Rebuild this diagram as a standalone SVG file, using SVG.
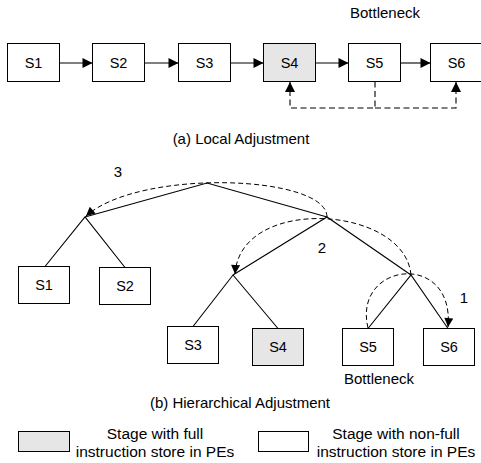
<svg xmlns="http://www.w3.org/2000/svg" width="481" height="463" viewBox="0 0 481 463">
<style>
  text { font-family: "Liberation Sans", Arial, Helvetica, sans-serif; fill: #000; }
  .lbl { font-size: 14.5px; text-anchor: middle; }
  .cap { font-size: 15px; text-anchor: middle; }
  .leg { font-size: 15.5px; text-anchor: middle; }
  .box { fill: #fff; stroke: #000; stroke-width: 1; }
  .full { fill: #e6e6e6; stroke: #000; stroke-width: 1; }
  .ln { fill: none; stroke: #000; stroke-width: 1.1; }
  .dash { fill: none; stroke: #000; stroke-width: 1.1; stroke-dasharray: 6 3.5; }
  .dash2 { fill: none; stroke: #000; stroke-width: 1; stroke-dasharray: 5 3; }
</style>
<defs>
  <marker id="ah" viewBox="0 0 10 10" refX="10" refY="5" markerUnits="userSpaceOnUse" markerWidth="15" markerHeight="10" orient="auto">
    <path d="M0,0 L10,5 L0,10 Z" fill="#000"/>
  </marker>
  <marker id="ah2" viewBox="0 0 10 10" refX="10" refY="5" markerUnits="userSpaceOnUse" markerWidth="13" markerHeight="9" orient="auto">
    <path d="M0,0 L10,5 L0,10 Z" fill="#000"/>
  </marker>
</defs>
<rect width="481" height="463" fill="#fff"/>

<!-- (a) Local Adjustment -->
<g id="a-S1"><rect class="box" x="7.5" y="43.5" width="52" height="38"/><text class="lbl" x="33.5" y="68">S1</text></g>
<g id="a-S2"><rect class="box" x="92.5" y="43.5" width="52" height="38"/><text class="lbl" x="118.5" y="68">S2</text></g>
<g id="a-S3"><rect class="box" x="178.5" y="43.5" width="52" height="38"/><text class="lbl" x="204.5" y="68">S3</text></g>
<g id="a-S4"><rect class="full" x="263.5" y="43.5" width="52" height="38"/><text class="lbl" x="289.5" y="68">S4</text></g>
<g id="a-S5"><rect class="box" x="348.5" y="43.5" width="52" height="38"/><text class="lbl" x="374.5" y="68">S5</text></g>
<g id="a-S6"><rect class="box" x="430.5" y="43.5" width="52" height="38"/><text class="lbl" x="456.5" y="68">S6</text></g>
<text id="a-bottleneck" class="cap" x="385" y="18">Bottleneck</text>
<text id="a-caption" class="cap" x="241" y="144">(a) Local Adjustment</text>

<!-- (b) Hierarchical Adjustment -->
<g id="b-S1"><rect class="box" x="18.5" y="266.5" width="51" height="37"/><text class="lbl" x="44" y="290">S1</text></g>
<g id="b-S2"><rect class="box" x="99.5" y="267.5" width="51" height="37"/><text class="lbl" x="125" y="291">S2</text></g>
<g id="b-S3"><rect class="box" x="167.5" y="326.5" width="51" height="37"/><text class="lbl" x="193" y="350">S3</text></g>
<g id="b-S4"><rect class="full" x="252.5" y="328.5" width="51" height="37"/><text class="lbl" x="278" y="352">S4</text></g>
<g id="b-S5"><rect class="box" x="342.5" y="328.5" width="51" height="37"/><text class="lbl" x="368" y="352">S5</text></g>
<g id="b-S6"><rect class="box" x="423.5" y="328.5" width="51" height="37"/><text class="lbl" x="449" y="352">S6</text></g>
<text id="b-bottleneck" class="cap" x="379" y="384">Bottleneck</text>
<text id="b-caption" class="cap" x="240" y="408">(b) Hierarchical Adjustment</text>
<text id="b-step3" class="cap" x="118" y="177">3</text>
<text id="b-step2" class="cap" x="322" y="253">2</text>
<text id="b-step1" class="cap" x="464" y="303">1</text>

<!-- Legend -->
<g id="legend-full">
  <rect class="full" x="18.5" y="431.5" width="51" height="20"/>
  <text class="leg" x="155" y="439">Stage with full</text>
  <text class="leg" x="155" y="457">instruction store in PEs</text>
</g>
<g id="legend-nonfull">
  <rect class="box" x="258.5" y="431.5" width="50" height="20"/>
  <text class="leg" x="396" y="439">Stage with non-full</text>
  <text class="leg" x="396" y="457">instruction store in PEs</text>
</g>

<g id="connectors">
  <!-- pipeline arrows -->
  <line class="ln" x1="59.5" y1="63" x2="92.5" y2="63" marker-end="url(#ah)"/>
  <line class="ln" x1="144.5" y1="63" x2="178.5" y2="63" marker-end="url(#ah)"/>
  <line class="ln" x1="230.5" y1="63" x2="263.5" y2="63" marker-end="url(#ah)"/>
  <line class="ln" x1="315.5" y1="63" x2="348.5" y2="63" marker-end="url(#ah)"/>
  <line class="ln" x1="400.5" y1="63" x2="430.5" y2="63" marker-end="url(#ah)"/>
  <!-- local adjustment feedback -->
  <path class="dash" d="M375,81.5 V108 H290 V82" marker-end="url(#ah)"/>
  <path class="dash" d="M375,108 H456 V82" marker-end="url(#ah)"/>

  <!-- tree edges -->
  <path class="ln" d="M85,217 L207,183 L327,217"/>
  <path class="ln" d="M45,266.5 L85,217 L125,267.5"/>
  <path class="ln" d="M233,275 L327,217 L411,275"/>
  <path class="ln" d="M193,326.5 L233,275 L278,328.5"/>
  <path class="ln" d="M368,328.5 L411,275 L448,328.5"/>

  <!-- hierarchical adjustment arcs -->
  <path class="dash2" d="M327,217 C327,175 140,168 86,216" marker-end="url(#ah2)"/>
  <path class="dash2" d="M411,275 C405,205 240,195 235,274" marker-end="url(#ah2)"/>
  <path class="dash2" d="M368,328 C352,262 455,250 448,327" marker-end="url(#ah2)"/>
</g>
</svg>
